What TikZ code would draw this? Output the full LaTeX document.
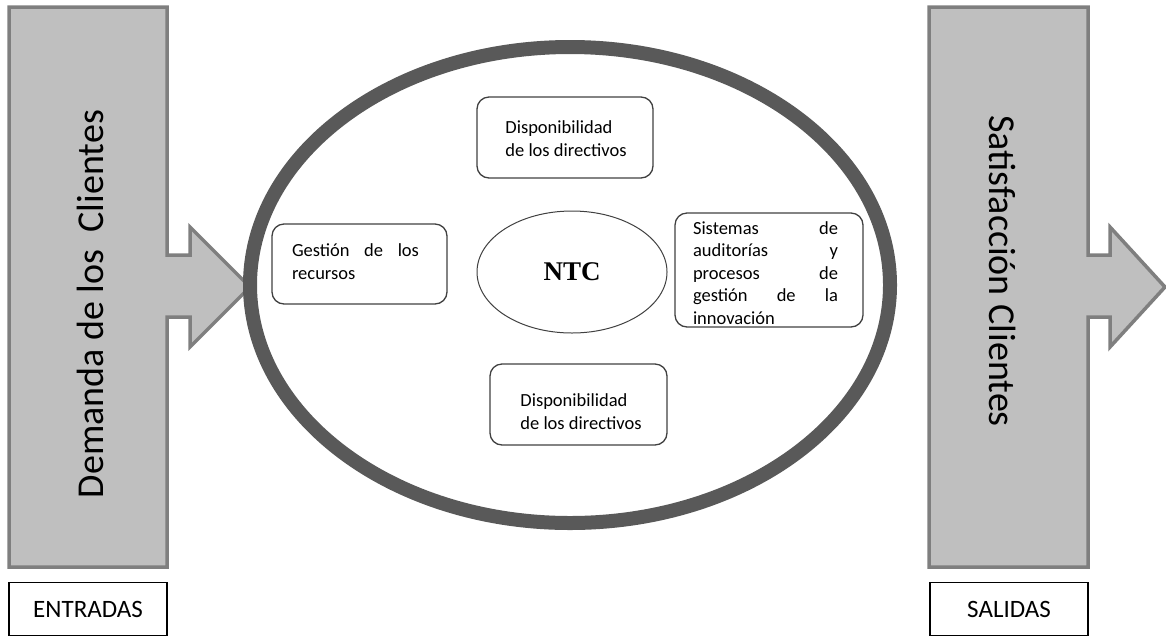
\documentclass[tikz,border=0pt]{standalone}
\usepackage{fontspec}
\setmainfont{Carlito}
\newfontfamily\ntcfont{Liberation Serif}
\usetikzlibrary{shapes.geometric}
\definecolor{panelfill}{HTML}{BFBFBF}
\definecolor{panelline}{HTML}{7F7F7F}
\definecolor{ringline}{HTML}{595959}
\definecolor{boxline}{HTML}{404040}
\tikzset{
  panel/.style={draw=panelline, fill=panelfill, line width=3.5pt, line join=miter},
  ring/.style={draw=ringline, line width=14pt},
  title/.style={font=\fontsize{38}{44}\selectfont, inner sep=0pt},
  tag/.style={draw=black, line width=1.2pt, minimum width=158pt, minimum height=53pt,
    inner sep=0pt, font=\fontsize{25}{30}\selectfont},
  itembox/.style={draw=boxline, line width=1.3pt, rounded corners=12pt, inner sep=0pt},
  itemtext/.style={inner sep=0pt, align=left, font=\fontsize{18.5}{23}\selectfont},
}
\begin{document}
\begin{tikzpicture}[x=1pt, y=-1pt]
  \useasboundingbox (0,0) rectangle (1166,638);

  % input panel with its arrow
  \draw[panel] (9,7) -- (167,7) -- (167,255) -- (190,255) -- (190,227) -- (250,287)
    -- (190,347) -- (190,317) -- (167,317) -- (167,567) -- (9,567) -- cycle;
  % output panel with its arrow
  \draw[panel] (929,7) -- (1088,7) -- (1088,255) -- (1110,255) -- (1110,227) -- (1165,287)
    -- (1110,347) -- (1110,317) -- (1088,317) -- (1088,567) -- (929,567) -- cycle;

  \node[title, rotate=90] (demanda) at (90,304) {Demanda de los\ \ Clientes};
  \node[title, rotate=-90] (satisf) at (1003,271) {Satisfacción Clientes};

  \node[tag] (entradas) at (88,609) {ENTRADAS};
  \node[tag] (salidas) at (1009,609) {SALIDAS};

  % the organisation
  \draw[ring] (570,285) ellipse [x radius=320pt, y radius=238pt];
  \coordinate (org) at (570,285);

  \node[draw=boxline, line width=1pt, ellipse, minimum width=190pt, minimum height=122pt,
    inner sep=0pt, font=\ntcfont\bfseries\fontsize{27}{30}\selectfont] (ntc) at (572,272) {NTC};

  \node[itembox, minimum width=176pt, minimum height=81pt] (top) at (565,137.5) {};
  \node[itemtext] (toptxt) at (566,139) {Disponibilidad\\de los directivos};

  \node[itembox, minimum width=177pt, minimum height=81pt] (bottom) at (578.5,404.5) {};
  \node[itemtext] (bottomtxt) at (581,412) {Disponibilidad\\de los directivos};

  \node[itembox, minimum width=175pt, minimum height=80pt] (left) at (359.5,264) {};
  \node[itemtext] (lefttxt) at (355.5,262) {\parbox{127pt}{Gestión\hfill de\hfill los\\recursos}};

  \node[itembox, minimum width=188pt, minimum height=114pt] (right) at (769,270) {};
  \node[itemtext, font=\fontsize{18.5}{22.5}\selectfont] (righttxt) at (765.5,273)
    {\parbox{145pt}{\fontsize{18.5}{22.5}\selectfont Sistemas\hfill de\\auditorías\hfill y\\procesos\hfill de\\gestión\hfill de\hfill la\\innovación}};
\end{tikzpicture}
\end{document}
